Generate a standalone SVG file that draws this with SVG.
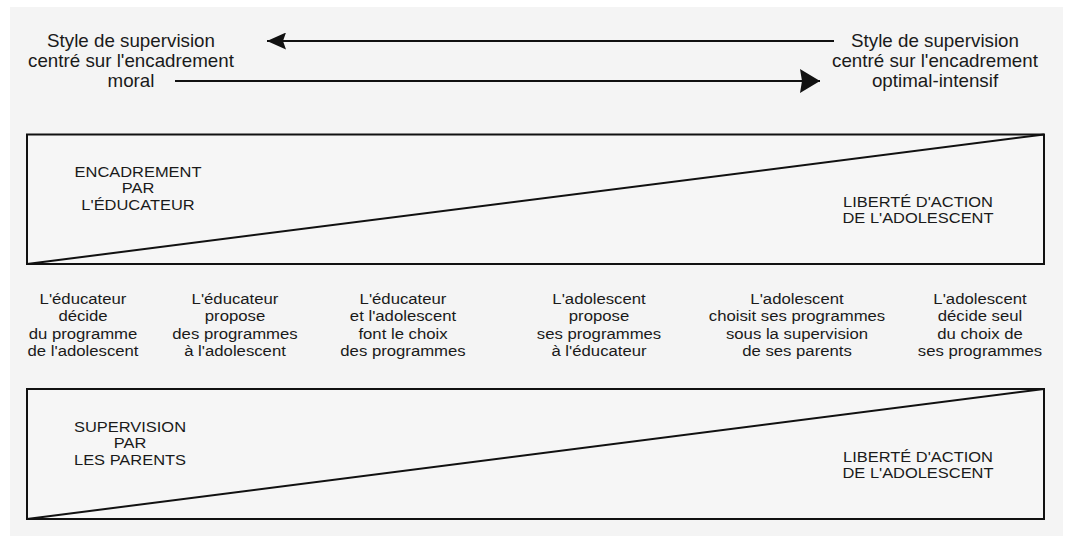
<svg xmlns="http://www.w3.org/2000/svg" width="1077" height="536" viewBox="0 0 1077 536">
<style>
text{font-family:"Liberation Sans",Arial,sans-serif;fill:#1a1a1a;text-anchor:middle}
.big{font-size:17.8px}
.mid{font-size:15.2px}
.cap{font-size:14.3px}
.ln{stroke:#111;stroke-width:2;fill:none}
.box{stroke:#111;stroke-width:2;fill:#f6f6f6}
</style>
<defs>
<marker id="headL" viewBox="0 0 19 17" refX="19" refY="8.5" markerWidth="19" markerHeight="17" markerUnits="userSpaceOnUse" orient="auto"><path d="M0,0L19,8.5L0,17L3,8.5Z" fill="#111"/></marker>
<marker id="headR" viewBox="0 0 20 24" refX="20" refY="12" markerWidth="20" markerHeight="24" markerUnits="userSpaceOnUse" orient="auto"><path d="M0,0L20,12L0,24L2,12Z" fill="#111"/></marker>
</defs>
<rect x="0" y="0" width="1077" height="536" fill="#ffffff"/>
<rect x="10" y="7" width="1053" height="529" fill="#f4f4f4"/>

<g id="connectors">
<line class="ln" x1="834" y1="41" x2="267" y2="41" marker-end="url(#headL)"/>
<line class="ln" x1="175" y1="81" x2="820" y2="81" marker-end="url(#headR)"/>
</g>

<g id="style-moral" transform="translate(131,0) scale(1.055,1)">
<text class="big" x="0" y="47">Style de supervision</text>
<text class="big" x="0" y="67">centré sur l'encadrement</text>
<text class="big" x="0" y="87">moral</text>
</g>
<g id="style-optimal" transform="translate(935,0) scale(1.055,1)">
<text class="big" x="0" y="47">Style de supervision</text>
<text class="big" x="0" y="67">centré sur l'encadrement</text>
<text class="big" x="0" y="87">optimal-intensif</text>
</g>

<g id="box-educateur">
<rect class="box" x="27" y="134.5" width="1017" height="129.5"/>
<line class="ln" x1="27" y1="264" x2="1044" y2="134.5"/>
<g transform="translate(138,0) scale(1.15,1)">
<text class="cap" x="0" y="177">ENCADREMENT</text>
<text class="cap" x="0" y="193.5">PAR</text>
<text class="cap" x="0" y="210">L'ÉDUCATEUR</text>
</g>
<g transform="translate(918,0) scale(1.15,1)">
<text class="cap" x="0" y="207">LIBERTÉ D'ACTION</text>
<text class="cap" x="0" y="223">DE L'ADOLESCENT</text>
</g>
</g>

<g id="step1" transform="translate(83,0) scale(1.1,1)">
<text class="mid" x="0" y="304">L'éducateur</text>
<text class="mid" x="0" y="321.3">décide</text>
<text class="mid" x="0" y="338.6">du programme</text>
<text class="mid" x="0" y="355.9">de l'adolescent</text>
</g>
<g id="step2" transform="translate(235,0) scale(1.1,1)">
<text class="mid" x="0" y="304">L'éducateur</text>
<text class="mid" x="0" y="321.3">propose</text>
<text class="mid" x="0" y="338.6">des programmes</text>
<text class="mid" x="0" y="355.9">à l'adolescent</text>
</g>
<g id="step3" transform="translate(403,0) scale(1.1,1)">
<text class="mid" x="0" y="304">L'éducateur</text>
<text class="mid" x="0" y="321.3">et l'adolescent</text>
<text class="mid" x="0" y="338.6">font le choix</text>
<text class="mid" x="0" y="355.9">des programmes</text>
</g>
<g id="step4" transform="translate(599,0) scale(1.1,1)">
<text class="mid" x="0" y="304">L'adolescent</text>
<text class="mid" x="0" y="321.3">propose</text>
<text class="mid" x="0" y="338.6">ses programmes</text>
<text class="mid" x="0" y="355.9">à l'éducateur</text>
</g>
<g id="step5" transform="translate(797,0) scale(1.1,1)">
<text class="mid" x="0" y="304">L'adolescent</text>
<text class="mid" x="0" y="321.3">choisit ses programmes</text>
<text class="mid" x="0" y="338.6">sous la supervision</text>
<text class="mid" x="0" y="355.9">de ses parents</text>
</g>
<g id="step6" transform="translate(980,0) scale(1.1,1)">
<text class="mid" x="0" y="304">L'adolescent</text>
<text class="mid" x="0" y="321.3">décide seul</text>
<text class="mid" x="0" y="338.6">du choix de</text>
<text class="mid" x="0" y="355.9">ses programmes</text>
</g>

<g id="box-parents">
<rect class="box" x="27" y="389" width="1017" height="130"/>
<line class="ln" x1="27" y1="519" x2="1044" y2="389"/>
<g transform="translate(130,0) scale(1.15,1)">
<text class="cap" x="0" y="432">SUPERVISION</text>
<text class="cap" x="0" y="448.5">PAR</text>
<text class="cap" x="0" y="465">LES PARENTS</text>
</g>
<g transform="translate(918,0) scale(1.15,1)">
<text class="cap" x="0" y="462">LIBERTÉ D'ACTION</text>
<text class="cap" x="0" y="478">DE L'ADOLESCENT</text>
</g>
</g>
</svg>
